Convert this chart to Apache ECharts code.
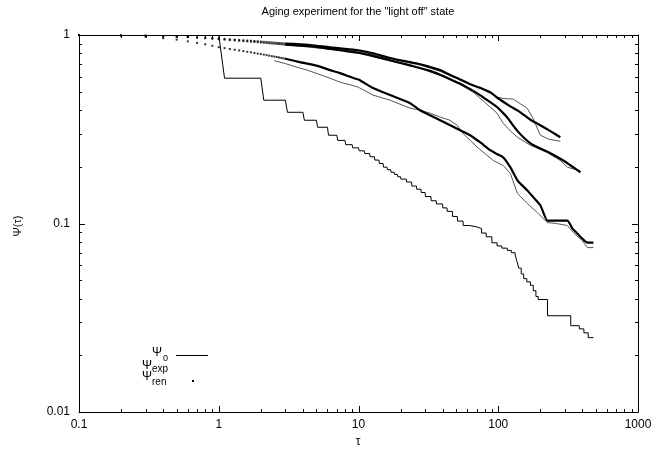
<!DOCTYPE html>
<html><head><meta charset="utf-8">
<script src="https://cdn.jsdelivr.net/npm/echarts@6/dist/echarts.min.js"></script>
<style>html,body{margin:0;padding:0;background:#fff}#c{width:655px;height:450px}</style>
</head><body><div id="c"></div>
<script>
// ---- tick labels ----
const xTickLabels = ['0.1','1','10','100','1000'];
const yTickLabels = ['0.01','0.1','1'];
const minorMantissas = [2,3,4,5,6,7,8,9];
const xDecades = [0.1,1,10,100];
const yDecades = [0.01,0.1];

// ---- Psi_0 staircase: drop times and values after the drop ----
const psi0Tau = [1,2,3,4,5,6,7,8,9,10,11,12,13,14,15,16,17,18,19,20,22,24,26,28,30,33,36,40,43,47,51,56,62,70,76,82,90,98,106,116,124,132,136,140,146,152,160,170,178,186,193,225,330,380,410,440];
const psi0Val = [0.59,0.451,0.389,0.353,0.324,0.294,0.276,0.262,0.252,0.243,0.235,0.226,0.217,0.208,0.199,0.193,0.187,0.182,0.177,0.172,0.166,0.158,0.152,0.146,0.139,0.132,0.127,0.121,0.116,0.109,0.103,0.0976,0.096,0.094,0.089,0.085,0.079,0.076,0.074,0.072,0.070,0.068,0.063,0.058,0.054,0.051,0.049,0.047,0.044,0.041,0.0395,0.0324,0.0287,0.0276,0.0263,0.0248];
const psi0End = 480;

// ---- Psi_ren: dotted part at small tau ----
const renTauDots = [0.1,0.2,0.3,0.4,0.5,0.6,0.7,0.8,0.9,1.0,1.1,1.2,1.3,1.4,1.5,1.6,1.7,1.8,1.9,2.0,2.1,2.2,2.3,2.4,2.5,2.6,2.7,2.8,2.9,3.0];
const renDotsA = [1.0,0.997,0.993,0.988,0.983,0.978,0.973,0.968,0.963,0.958,0.953,0.949,0.945,0.941,0.938,0.935,0.932,0.929,0.926,0.923,0.92,0.917,0.914,0.912,0.91,0.908,0.906,0.904,0.902,0.9];
const renDotsB = [1.0,0.996,0.991,0.985,0.979,0.973,0.967,0.961,0.955,0.95,0.945,0.94,0.936,0.932,0.928,0.925,0.922,0.919,0.916,0.913,0.91,0.907,0.904,0.902,0.9,0.898,0.896,0.894,0.892,0.89];
const renDotsC = [0.998,0.99,0.978,0.962,0.945,0.925,0.908,0.893,0.877,0.862,0.852,0.843,0.835,0.828,0.821,0.815,0.809,0.803,0.797,0.792,0.787,0.782,0.777,0.772,0.768,0.764,0.760,0.756,0.752,0.748];

// ---- Psi_ren: dense part (appears as thick line) ----
const renTauA = [3,4.5,6.25,7.4,10,12.7,16.8,23.4,27.6,32.5,38.4,45,53,63,74,87.6,98,122,144,170,200,236,278];
const renValA = [0.9,0.885,0.86,0.85,0.83,0.80,0.755,0.718,0.70,0.676,0.651,0.615,0.583,0.548,0.525,0.4975,0.466,0.418,0.389,0.355,0.332,0.309,0.287];
const renTauB = [3,4.5,6.25,7.4,10,12.7,16.8,23.4,32.5,38.4,45,53,63,74,87.6,98,108.6,116,137,170,200,236,292,340,387];
const renValB = [0.89,0.872,0.845,0.83,0.805,0.775,0.735,0.69,0.645,0.615,0.585,0.553,0.516,0.48,0.44,0.415,0.385,0.365,0.31,0.266,0.25,0.236,0.216,0.20,0.187];
const renTauC = [3,3.8,4.5,5.3,6.25,7.37,8.69,10,12.7,16.8,23.4,27.6,32.5,38.4,45.3,53.4,63,74,87.6,98.4,108.6,121.9,136.8,143.8,161,178,200,224.5,236,278,312,340,368,387,434,480];
const renValC = [0.748,0.718,0.70,0.68,0.651,0.628,0.60,0.58,0.523,0.48,0.435,0.399,0.375,0.353,0.332,0.3125,0.294,0.27,0.245,0.233,0.224,0.199,0.17,0.163,0.15,0.138,0.125,0.1037,0.1037,0.1037,0.1037,0.094,0.0885,0.085,0.0792,0.0792];

// ---- Psi_exp (thin lines) ----
const expTauA = [2,3,6.25,10,16.8,27.6,38.4,53,63,74,87.6,98,110,128,145,161,178,190,200,230,278];
const expValA = [0.925,0.9,0.852,0.822,0.75,0.692,0.642,0.578,0.545,0.522,0.49,0.468,0.46,0.457,0.43,0.409,0.36,0.32,0.294,0.28,0.273];
const expTauB = [2,3,6.25,10,16.8,27.6,38.4,53,66,80,98,108.6,122,137,170,224,278,312,387];
const expValB = [0.915,0.888,0.84,0.80,0.728,0.665,0.61,0.548,0.498,0.44,0.385,0.34,0.31,0.287,0.26,0.238,0.216,0.199,0.19];
const expTauC = [2.5,3,3.81,4.3,6.25,7.37,8.69,10,12.7,16.8,23.4,27.6,32.5,38.4,45,50.8,56,63,70.7,92,108.6,122,137,161,190,224,260,312,350,400,434,480];
const expValC = [0.73,0.705,0.667,0.651,0.59,0.562,0.545,0.528,0.48,0.451,0.409,0.399,0.385,0.367,0.353,0.332,0.30,0.276,0.254,0.216,0.203,0.1845,0.1445,0.128,0.1144,0.1012,0.10,0.0976,0.0885,0.081,0.0745,0.0745];

// ---- build ----
const zip = (a,b) => a.map((v,i)=>[v,b[i]]);
const psi0Data = [];
let prev = 1;
psi0Tau.forEach((t,i)=>{ psi0Data.push([t,prev]); psi0Data.push([t+0.1,psi0Val[i]]); prev = psi0Val[i]; });
psi0Data.push([psi0End,prev]);

const xMinor = [], yMinor = [];
xDecades.forEach(d=>minorMantissas.forEach(m=>xMinor.push(d*m)));
yDecades.forEach(d=>minorMantissas.forEach(m=>yMinor.push(d*m)));
const xMajor = xTickLabels.map(s=>parseFloat(s));
const yMajor = yTickLabels.map(s=>parseFloat(s));

const FONT = 'Liberation Sans, Arial, Helvetica, sans-serif';
function findLabel(list, v){ const l = list.find(s=>Math.abs(parseFloat(s)-v)/v<1e-6); return l===undefined?'':l; }

const axisCommon = {
  type:'log', logBase:10,
  axisLine:{show:true, lineStyle:{color:'#000'}},
  axisTick:{show:false},
  splitLine:{show:false}
};

const chart = echarts.init(document.getElementById('c'), null, {renderer:'canvas'});

// step 1: axes only
chart.setOption({
  animation:false,
  grid:{left:79, right:17, top:35, bottom:38},
  xAxis:[
    Object.assign({}, axisCommon, {min:0.1, max:1000, position:'bottom',
      axisLabel:{color:'#000', fontSize:12, fontFamily:FONT, margin:7, formatter:v=>findLabel(xTickLabels,v)}}),
    Object.assign({}, axisCommon, {min:0.1, max:1000, position:'top', axisLabel:{show:false}})
  ],
  yAxis:[
    Object.assign({}, axisCommon, {min:0.01, max:1, position:'left',
      axisLabel:{color:'#000', fontSize:12, fontFamily:FONT, margin:9, formatter:v=>findLabel(yTickLabels,v)}}),
    Object.assign({}, axisCommon, {min:0.01, max:1, position:'right', axisLabel:{show:false}})
  ],
  series:[{type:'line', data:[[1,0.5]], symbol:'none', lineStyle:{opacity:0}}]
});

// step 2: tick marks positioned through the axes' scales
const px = v => chart.convertToPixel({xAxisIndex:0}, v);
const py = v => chart.convertToPixel({yAxisIndex:0}, v);
const xl = px(0.1), xr = px(1000), yb = py(0.01), yt = py(1);
const ticks = [];
function addX(v, L){
  const x = Math.round(px(v)) + 0.5;
  ticks.push({type:'line', shape:{x1:x,y1:yb,x2:x,y2:yb-L}, style:{stroke:'#000', lineWidth:1}});
  ticks.push({type:'line', shape:{x1:x,y1:yt,x2:x,y2:yt+L}, style:{stroke:'#000', lineWidth:1}});
}
function addY(v, L){
  const y = Math.round(py(v)) + 0.5;
  ticks.push({type:'line', shape:{x1:xl,y1:y,x2:xl+L,y2:y}, style:{stroke:'#000', lineWidth:1}});
  ticks.push({type:'line', shape:{x1:xr,y1:y,x2:xr-L,y2:y}, style:{stroke:'#000', lineWidth:1}});
}
xMajor.forEach(v=>addX(v,6)); xMinor.forEach(v=>addX(v,3));
yMajor.forEach(v=>addY(v,6)); yMinor.forEach(v=>addY(v,3));

const legendAndText = [
  {type:'text', x:358, y:12, style:{text:'Aging experiment for the "light off" state', fill:'#000', font:'11px '+FONT, align:'center', verticalAlign:'middle'}},
  {type:'text', x:358, y:442, style:{text:'τ', fill:'#000', font:'12px '+FONT, align:'center', verticalAlign:'middle'}},
  {type:'text', x:18, y:226, rotation:Math.PI/2, style:{text:'Ψ(τ)', fill:'#000', font:'11px '+FONT, align:'center', verticalAlign:'middle'}},
  {type:'text', x:162, y:353, style:{text:'Ψ', fill:'#000', font:'12px '+FONT, align:'right', verticalAlign:'middle'}},
  {type:'text', x:163, y:359, style:{text:'0', fill:'#000', font:'9px '+FONT, align:'left', verticalAlign:'middle'}},
  {type:'line', shape:{x1:176,y1:355.5,x2:208,y2:355.5}, style:{stroke:'#000', lineWidth:1}},
  {type:'text', x:152, y:366, style:{text:'Ψ', fill:'#000', font:'12px '+FONT, align:'right', verticalAlign:'middle'}},
  {type:'text', x:152, y:369, style:{text:'exp', fill:'#000', font:'10px '+FONT, align:'left', verticalAlign:'middle'}},
  {type:'text', x:152, y:377, style:{text:'Ψ', fill:'#000', font:'12px '+FONT, align:'right', verticalAlign:'middle'}},
  {type:'text', x:152, y:382, style:{text:'ren', fill:'#000', font:'10px '+FONT, align:'left', verticalAlign:'middle'}},
  {type:'rect', shape:{x:192,y:380,width:2,height:2}, style:{fill:'#000'}}
];

// step 3: ticks + text, then the data series
chart.setOption({graphic: ticks.concat(legendAndText)});
chart.setOption({
  series:[
    {name:'Ψ0', type:'line', data:psi0Data, showSymbol:false, symbol:'none', lineStyle:{color:'#000', width:1, opacity:1}},
    {name:'exp A', type:'line', data:zip(expTauA,expValA), symbol:'none', lineStyle:{color:'#555', width:1}},
    {name:'exp B', type:'line', data:zip(expTauB,expValB), symbol:'none', lineStyle:{color:'#555', width:1}},
    {name:'exp C', type:'line', data:zip(expTauC,expValC), symbol:'none', lineStyle:{color:'#555', width:1}},
    {name:'ren A', type:'line', data:zip(renTauA,renValA), symbol:'none', smooth:0.3, lineStyle:{color:'#000', width:2.2}},
    {name:'ren B', type:'line', data:zip(renTauB,renValB), symbol:'none', smooth:0.3, lineStyle:{color:'#000', width:2.2}},
    {name:'ren C', type:'line', data:zip(renTauC,renValC), symbol:'none', smooth:0.2, lineStyle:{color:'#000', width:2.2}},
    {name:'ren A dots', type:'scatter', data:zip(renTauDots,renDotsA), symbol:'rect', symbolSize:2, itemStyle:{color:'#000'}},
    {name:'ren B dots', type:'scatter', data:zip(renTauDots,renDotsB), symbol:'rect', symbolSize:2, itemStyle:{color:'#000'}},
    {name:'ren C dots', type:'scatter', data:zip(renTauDots,renDotsC), symbol:'rect', symbolSize:2, itemStyle:{color:'#000'}}
  ]
});
</script></body></html>
